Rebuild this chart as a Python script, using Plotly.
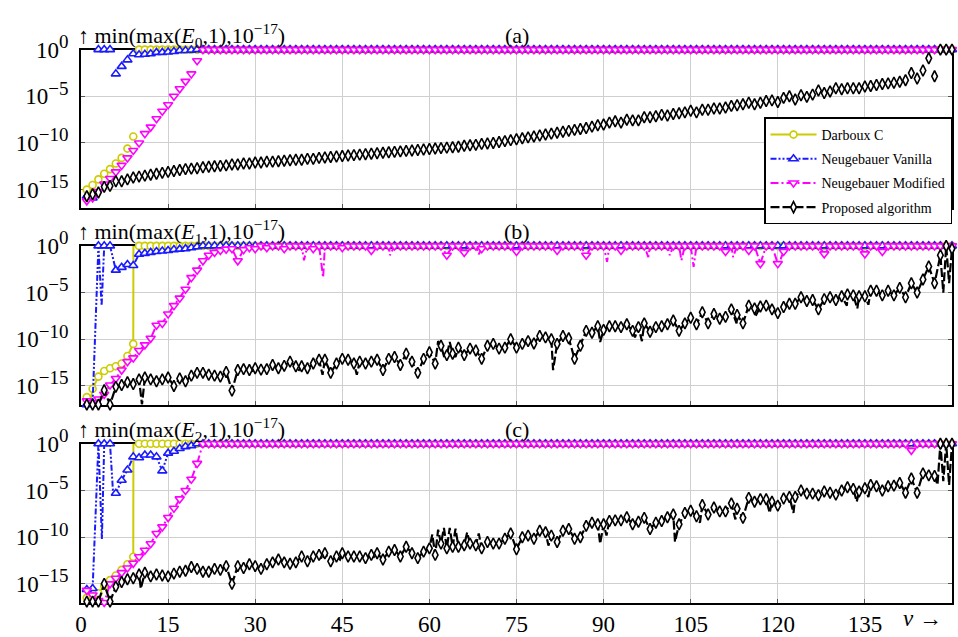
import plotly.graph_objects as go

# ν = 1 .. 150
nu = list(range(1, 151))

# log10 of the clamped error  min(max(E,1),1e-17)  for every method / panel
# ---------------- panel (a): E0 ----------------
a_darboux = [-15.0, -14.5, -13.9, -13.3, -12.8, -12.2, -11.6, -10.6, -9.3] + [0.0] * 141
a_vanilla = [-15.7, -15.9, 0.0, 0.0, 0.0, -2.6, -1.8, -1.1, -0.45, -0.55,
             -0.5, -0.45, -0.3, -0.3, -0.25, -0.2, -0.1, -0.1, -0.05, 0.0] + [0.0] * 130
a_modified = [-16.2, -15.9, -15.2, -14.4, -13.8, -13.1, -12.4, -11.6, -10.8, -10.0,
              -9.0, -8.3, -7.4, -6.6, -5.9, -5.0, -4.2, -3.4, -2.6, -1.2] + [0.0] * 130
a_proposed = [-15.7, -15.5, -15.3, -14.7, -14.6, -14.1, -14.1, -13.9, -13.7, -13.6,
              -13.5, -13.4, -13.3, -13.2, -13.1, -13.0, -12.9, -12.8, -12.75, -12.7,
              -12.6, -12.55, -12.5, -12.45, -12.4, -12.3, -12.3, -12.2, -12.2, -12.1,
              -12.1, -12.0, -12.0, -11.95, -11.9, -11.85, -11.8, -11.8, -11.7, -11.7,
              -11.6, -11.55, -11.5, -11.45, -11.4, -11.35, -11.3, -11.25, -11.2, -11.15,
              -11.1, -11.05, -11.0, -10.95, -10.9, -10.85, -10.8, -10.75, -10.7, -10.65,
              -10.6, -10.55, -10.5, -10.45, -10.4, -10.3, -10.25, -10.2, -10.1, -10.05,
              -10.0, -9.9, -9.8, -9.7, -9.6, -9.5, -9.4, -9.3, -9.2, -9.1,
              -9.0, -8.9, -8.8, -8.7, -8.6, -8.5, -8.4, -8.25, -8.1, -8.03,
              -7.82, -7.68, -7.82, -7.51, -7.58, -7.58, -7.24, -7.24, -7.13, -6.99,
              -7.06, -6.89, -6.82, -6.72, -6.55, -6.72, -6.44, -6.44, -6.31, -6.31,
              -6.2, -6.03, -5.96, -5.86, -5.69, -5.86, -5.69, -5.51, -5.44, -5.62,
              -5.17, -5.0, -5.34, -4.89, -5.06, -4.82, -4.38, -4.65, -4.48, -4.14,
              -4.24, -4.14, -4.14, -4.14, -3.96, -3.89, -3.79, -3.69, -3.62, -3.55,
              -3.45, -3.28, -2.51, -3.1, -2.24, -0.93, -2.86, 0.0, 0.0, 0.0]

# ---------------- panel (b): E1 ----------------
b_darboux = [-16.2, -15.3, -14.0, -13.4, -13.1, -12.9, -12.6, -11.8, -10.5] + [0.0] * 141
b_vanilla = [-17.0, -16.8, 0.0, 0.0, 0.0, -2.6, -2.3, -2.0, -2.1, -0.9,
             -0.8, -0.7, -0.6, -0.55, -0.5, -0.4, -0.35, -0.3, -0.2, -0.1] + [0.0] * 130
b_modified = [-16.6, -16.8, -16.4, -15.9, -14.9, -14.2, -13.3, -12.4, -12.0, -11.2,
              -10.6, -9.9, -8.5, -8.3, -7.3, -6.4, -5.6, -4.65, -3.4, -2.6,
              -1.6, -1.0, -0.7, -0.5, -0.35, -0.3, -1.6, -0.4, -0.2, -0.3,
              0.0, -0.2, 0.0, 0.0, -0.3, 0.0, 0.0, 0.0, 0.0, -0.3,
              0.0, 0.0, 0.0, 0.0, -0.2, 0.0, 0.0, 0.0, 0.0, -0.5,
              0.0, 0.0, 0.0, 0.0, 0.0, 0.0, 0.0, 0.0, 0.0, 0.0,
              0.0, 0.0, -1.0, 0.0, 0.0, -0.7, 0.0, 0.0, -0.3, 0.0,
              0.0, 0.0, 0.0, 0.0, -0.6, 0.0, 0.0, 0.0, 0.0, 0.0,
              0.0, -0.5, 0.0, 0.0, 0.0, 0.0, -1.0, 0.0, 0.0, 0.0,
              0.0, 0.0, -0.5, 0.0, 0.0, 0.0, 0.0, 0.0, 0.0, 0.0,
              0.0, 0.0, 0.0, 0.0, 0.0, 0.0, 0.0, 0.0, 0.0, 0.0,
              -0.6, 0.0, 0.0, 0.0, -0.5, 0.0, -1.9, 0.0, 0.0, -1.9,
              -0.6, 0.0, 0.0, 0.0, 0.0, 0.0, 0.0, -0.86, 0.0, 0.0,
              0.0, 0.0, 0.0, 0.0, -0.86, 0.0, 0.0, -0.6, 0.0, 0.0,
              0.0, 0.0, 0.0, 0.0, 0.0, 0.0, 0.0, 0.0, 0.0, 0.0]
b_proposed = [-17.0, -17.0, -17.0, -15.45, -17.0, -15.1, -14.9, -14.6, -14.8, -14.3,
              -14.1, -14.3, -14.5, -14.3, -14.1, -15.0, -14.2, -14.5, -13.9, -13.6,
              -13.6, -13.8, -13.9, -14.0, -13.5, -15.5, -13.3, -13.2, -13.3, -13.1,
              -13.25, -13.2, -12.75, -13.1, -12.85, -12.4, -12.9, -12.9, -13.1, -12.6,
              -12.2, -12.2, -13.6, -12.6, -12.1, -12.2, -12.6, -12.4, -12.6, -12.4,
              -12.2, -13.3, -12.1, -11.9, -12.75, -11.55, -12.4, -13.6, -12.1, -11.4,
              -12.6, -10.7, -11.7, -11.55, -10.9, -11.7, -11.0, -11.2, -12.1, -10.7,
              -10.5, -11.0, -10.9, -10.0, -10.9, -10.5, -10.2, -10.45, -9.65, -9.8,
              -10.0, -10.5, -9.65, -9.9, -12.1, -10.7, -9.1, -9.3, -8.6, -9.0,
              -8.6, -8.6, -8.7, -8.4, -9.1, -8.7, -8.3, -9.2, -8.7, -8.6,
              -8.4, -8.0, -9.1, -8.3, -7.7, -8.4, -7.1, -8.3, -7.3, -7.8,
              -7.6, -6.8, -7.4, -8.3, -6.4, -6.7, -6.5, -6.4, -6.8, -7.2,
              -6.55, -6.2, -6.2, -5.5, -5.9, -5.8, -6.8, -5.7, -5.5, -5.8,
              -5.4, -5.2, -5.3, -5.4, -5.4, -4.8, -4.8, -5.3, -4.8, -5.3,
              -4.5, -5.5, -4.0, -5.0, -3.6, -2.2, -4.0, -1.0, 0.0, -0.3]

# ---------------- panel (c): E2 ----------------
c_darboux = [-16.5, -16.3, -16.0, -15.2, -14.6, -14.1, -13.5, -12.9, -12.1] + [0.0] * 141
c_vanilla = [-15.6, -15.5, 0.0, 0.0, 0.0, -5.3, -3.9, -2.8, -1.4, -1.5,
             -1.2, -1.2, -1.4, -2.9, -1.0, -0.8, -0.5, -0.3, -0.2, 0.0] + [0.0] * 130
c_modified = ([-15.7, -16.2, -16.8, -17.0, -15.0, -14.4, -13.8, -13.3, -12.8, -12.1,
               -11.4, -10.7, -9.6, -8.9, -7.9, -6.9, -5.9, -5.0, -3.8, -2.1]
              + [0.0] * 122 + [-0.7] + [0.0] * 7)
c_proposed = [-16.9, -16.9, -16.9, -15.0, -16.9, -15.3, -14.8, -14.5, -14.4, -14.0,
              -13.8, -14.2, -14.0, -14.1, -14.2, -13.9, -13.7, -13.6, -13.2, -13.4,
              -13.7, -13.7, -13.4, -13.5, -13.1, -15.0, -13.1, -13.3, -12.9, -13.1,
              -13.4, -12.9, -12.7, -12.4, -12.7, -12.85, -12.7, -12.07, -12.58, -12.07,
              -11.9, -11.72, -12.58, -12.07, -11.72, -12.07, -12.07, -12.07, -12.24, -11.9,
              -11.72, -12.4, -11.55, -11.38, -12.07, -11.03, -11.72, -12.24, -11.55, -11.2,
              -11.9, -10.69, -11.2, -11.03, -11.03, -10.86, -10.69, -10.86, -11.2, -10.51,
              -10.69, -10.69, -10.17, -9.6, -11.3, -10.0, -9.83, -10.17, -9.31, -9.48,
              -9.83, -10.51, -9.31, -9.13, -10.17, -10.0, -8.79, -8.45, -8.62, -8.62,
              -8.27, -8.2, -8.2, -7.86, -8.62, -8.34, -7.93, -9.13, -8.45, -8.27,
              -7.86, -7.58, -8.62, -7.41, -7.17, -7.76, -6.55, -7.58, -6.83, -7.24,
              -7.24, -6.38, -6.96, -7.93, -5.79, -6.2, -5.93, -5.93, -6.2, -6.62,
              -5.86, -5.69, -5.69, -5.0, -5.34, -5.34, -5.51, -5.1, -5.24, -5.44,
              -5.0, -4.65, -4.83, -5.1, -4.76, -4.41, -4.55, -5.0, -4.55, -4.48,
              -4.2, -5.24, -3.72, -5.24, -3.17, -3.38, -3.45, 0.0, 0.0, 0.0]

# intermediate samples of the continuous curves (ν, log10 value), drawn by the lines only
b_darboux_fine = [(1.5, -17.0), (9.03, 0.0)]
b_vanilla_fine = [(3.55, -6.4)]
b_modified_fine = [(38.4, -1.55), (41.7, -3.4), (53.2, -1.0), (68.5, -0.9), (90.6, -1.7),
                   (97.7, -1.2), (101.4, -1.0), (103.4, -1.55), (105.5, -2.24),
                   (112.3, -1.2), (120.5, -1.4)]
b_proposed_fine = [(10.5, -17.0), (29.5, -13.4), (37.4, -13.4), (41.6, -13.8),
                   (47.5, -13.8), (61.5, -10.2), (62.5, -11.8), (63.5, -10.3),
                   (64.5, -11.9), (81.3, -13.3), (89.4, -10.3), (95.4, -9.8),
                   (96.6, -10.2), (112.9, -8.3), (116.1, -7.6), (131.9, -6.4),
                   (133.7, -6.7), (135.6, -6.3), (148.5, -5.0), (149.5, -4.0)]
c_darboux_fine = [(9.03, 0.0)]
c_vanilla_fine = [(3.6, -10.2), (5.55, -5.5)]
c_modified_fine = []
c_proposed_fine = [(10.3, -15.5), (41.5, -12.4), (44.6, -12.4), (50.6, -12.2),
                   (60.5, -9.7), (61.5, -9.2), (62.5, -9.0), (63.5, -9.0),
                   (64.5, -9.1), (66.5, -9.5), (68.5, -9.6), (80.5, -10.9),
                   (89.4, -10.7), (90.5, -9.83), (102.3, -10.5), (106.6, -8.45),
                   (112.7, -8.1), (118.6, -7.4), (122.7, -7.4), (133.6, -6.2),
                   (135.6, -5.7), (147.5, -4.4), (148.5, -4.0), (149.5, -4.4)]

names = ["Darboux C", "Neugebauer Vanilla", "Neugebauer Modified", "Proposed algorithm"]
x_ticks = [0, 15, 30, 45, 60, 75, 90, 105, 120, 135]
y_ticks = [-15, -10, -5, 0]
y_ticktext = ["10<sup><span style='font-size:19px'>−15</span></sup>",
              "10<sup><span style='font-size:19px'>−10</span></sup>",
              "10<sup><span style='font-size:19px'>−5</span></sup>",
              "10<sup><span style='font-size:19px'>0</span></sup>"]
panel_titles = ["(a)", "(b)", "(c)"]
panel_ylabels = ["↑ min(max(<i>E</i><sub>0</sub>,1),10<sup>−17</sup>)",
                 "↑ min(max(<i>E</i><sub>1</sub>,1),10<sup>−17</sup>)",
                 "↑ min(max(<i>E</i><sub>2</sub>,1),10<sup>−17</sup>)"]

styles = [
    dict(color="#CCCC00", dash="solid", symbol="circle", size=7),
    dict(color="#1A1AFF", dash="6px,2px,2px,2px,2px,2px", symbol="triangle-up", size=8),
    dict(color="#FF00FF", dash="8px,3px,2px,3px", symbol="triangle-down", size=8),
    dict(color="#000000", dash="9px,3px", symbol="diamond-tall", size=8),
]

FONT = "Liberation Serif, DejaVu Serif, serif"
W, H = 958, 637
L_PX, R_PX = 81, 952
# panel vertical extents in pixels (top, bottom)
panels_px = [(31.7, 196.1), (235.0, 399.4), (440.0, 604.4)]

fig = go.Figure()

panel_data = [
    ([a_darboux, a_vanilla, a_modified, a_proposed], None),
    ([b_darboux, b_vanilla, b_modified, b_proposed],
     [b_darboux_fine, b_vanilla_fine, b_modified_fine, b_proposed_fine]),
    ([c_darboux, c_vanilla, c_modified, c_proposed],
     [c_darboux_fine, c_vanilla_fine, c_modified_fine, c_proposed_fine]),
]

for p, (series, fines) in enumerate(panel_data):
    xa = "x" if p == 0 else f"x{p + 1}"
    ya = "y" if p == 0 else f"y{p + 1}"
    for k, vals in enumerate(series):
        st = styles[k]
        pts = [(n, v, True) for n, v in zip(nu, vals)]
        if fines is not None:
            pts += [(n, v, False) for n, v in fines[k]]
            pts.sort(key=lambda t: t[0])
        xs = [t[0] for t in pts]
        ys = [10 ** t[1] for t in pts]
        fill = ["white" if t[2] else "rgba(0,0,0,0)" for t in pts]
        edge = [st["color"] if t[2] else "rgba(0,0,0,0)" for t in pts]
        fig.add_trace(go.Scatter(
            x=xs, y=ys, xaxis=xa, yaxis=ya,
            mode="markers" if fines is None else "lines+markers",
            name=names[k], legendgroup=names[k], showlegend=(p == 1),
            line=dict(color=st["color"], width=2.2 if k == 3 else 2, dash=st["dash"]),
            marker=dict(symbol=st["symbol"], size=st["size"], color=fill,
                        line=dict(color=edge, width=1.6)),
            cliponaxis=False, hoverinfo="skip",
        ))

axis_common = dict(showline=True, linecolor="black", linewidth=2, mirror="ticks",
                   ticks="inside", ticklen=4, tickcolor="#555555", tickwidth=1,
                   showgrid=True, gridcolor="#cfcfcf", gridwidth=1, zeroline=False,
                   layer="below traces",
                   tickfont=dict(family=FONT, size=23, color="black"))

layout = dict(
    width=W, height=H, margin=dict(l=L_PX, r=W - R_PX, t=0, b=0),
    paper_bgcolor="white", plot_bgcolor="white",
    font=dict(family=FONT, color="black"),
    showlegend=True,
    legend=dict(x=(764 - L_PX) / (R_PX - L_PX), y=1 - 102 / H, xanchor="left", yanchor="top",
                bgcolor="white", bordercolor="black", borderwidth=1.5,
                font=dict(family=FONT, size=14, color="black"),
                itemwidth=46, traceorder="grouped", tracegroupgap=3),
)

annotations = []
for p in range(3):
    top, bot = panels_px[p]
    sfx = "" if p == 0 else str(p + 1)
    layout["xaxis" + sfx] = dict(axis_common, range=[0, 150], tickvals=x_ticks,
                                 showticklabels=(p == 2), domain=[0, 1],
                                 anchor="y" + sfx)
    layout["yaxis" + sfx] = dict(axis_common, type="log", range=[-17, 0],
                                 tickvals=[10 ** t for t in y_ticks], ticktext=y_ticktext,
                                 domain=[1 - bot / H, 1 - top / H],
                                 anchor="x" + sfx, ticklabelstandoff=6)
    annotations.append(dict(xref="paper", yref="paper", x=(76 - L_PX) / (R_PX - L_PX),
                            y=1 - (top - 15) / H, xanchor="left", yanchor="middle",
                            text=panel_ylabels[p], showarrow=False,
                            font=dict(family=FONT, size=22, color="black")))
    annotations.append(dict(xref="paper", yref="paper", x=0.5, y=1 - (top - 15) / H,
                            xanchor="center", yanchor="middle", text=panel_titles[p],
                            showarrow=False, font=dict(family=FONT, size=22, color="black")))

annotations.append(dict(xref="paper", yref="paper", x=(922 - L_PX) / (R_PX - L_PX),
                        y=1 - 621 / H, xanchor="center", yanchor="middle",
                        text="<i>ν</i> →", showarrow=False,
                        font=dict(family=FONT, size=23, color="black")))
layout["annotations"] = annotations

fig.update_layout(**layout)
fig.write_html("out.html")
